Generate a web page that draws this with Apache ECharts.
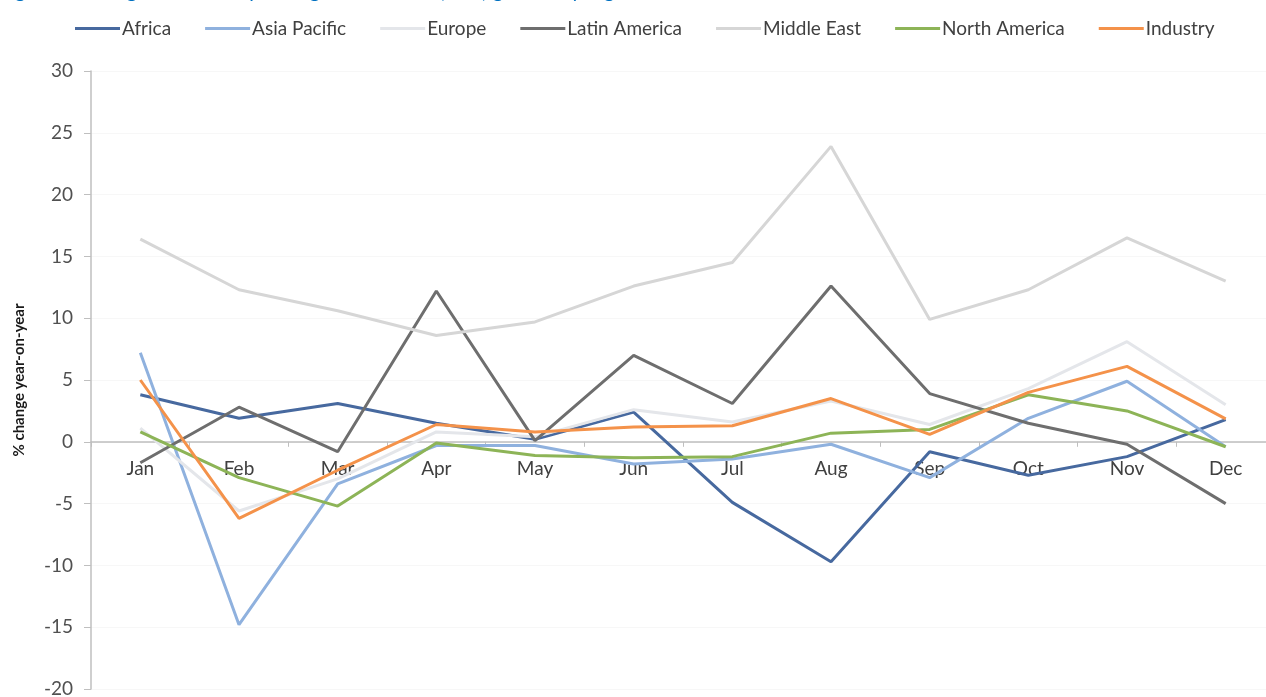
<!DOCTYPE html>
<html>
<head>
<meta charset="utf-8">
<script src="https://cdn.jsdelivr.net/npm/echarts@6/dist/echarts.min.js"></script>
<style>
  html, body { margin: 0; padding: 0; background: #ffffff; }
  #chart { width: 1266px; height: 697px; }
</style>
</head>
<body>
<div id="chart"></div>
<script>
// Monthly year-on-year % change by region
const months = ['Jan', 'Feb', 'Mar', 'Apr', 'May', 'Jun', 'Jul', 'Aug', 'Sep', 'Oct', 'Nov', 'Dec'];

const africa       = [3.8, 1.9, 3.1, 1.5, 0.2, 2.4, -4.9, -9.7, -0.8, -2.7, -1.2, 1.8];
const asiaPacific  = [7.2, -14.8, -3.4, -0.3, -0.3, -1.8, -1.4, -0.2, -2.9, 1.9, 4.9, -0.4];
const europe       = [1.1, -5.6, -3.0, 0.8, 0.4, 2.6, 1.6, 3.3, 1.4, 4.3, 8.1, 3.0];
const latinAmerica = [-1.7, 2.8, -0.8, 12.2, 0.1, 7.0, 3.1, 12.6, 3.9, 1.5, -0.2, -5.0];
const middleEast   = [16.4, 12.3, 10.6, 8.6, 9.7, 12.6, 14.5, 23.9, 9.9, 12.3, 16.5, 13.0];
const northAmerica = [0.8, -2.9, -5.2, -0.1, -1.1, -1.3, -1.2, 0.7, 1.0, 3.8, 2.5, -0.4];
const industry     = [5.0, -6.2, -2.3, 1.4, 0.8, 1.2, 1.3, 3.5, 0.6, 4.0, 6.1, 1.85];

const yTicks = { min: -20, max: 30, step: 5 };

const seriesDefs = [
  { name: 'Africa',        data: africa,       color: '#47699F' },
  { name: 'Asia Pacific',  data: asiaPacific,  color: '#8FB1DE' },
  { name: 'Europe',        data: europe,       color: '#E4E6EA' },
  { name: 'Latin America', data: latinAmerica, color: '#6E6E6E' },
  { name: 'Middle East',   data: middleEast,   color: '#D6D6D6' },
  { name: 'North America', data: northAmerica, color: '#8DB457' },
  { name: 'Industry',      data: industry,     color: '#F4924A' }
];

const FONT = 'Lato, "Open Sans", sans-serif';

// plot area box
const W = 1266, H = 697;
const gridBox = { left: 91, right: -9, top: 71, bottom: 8 };
const plotH = H - gridBox.top - gridBox.bottom;
// distance from the bottom of the plot up to the zero line, so month labels sit under it
const zeroLift = plotH * (0 - yTicks.min) / (yTicks.max - yTicks.min);

const chart = echarts.init(document.getElementById('chart'), null, { renderer: 'canvas' });

chart.setOption({
  backgroundColor: '#ffffff',
  animation: false,
  title: {
    text: 'Figure 2: Change in revenue passenger kilometres (RPK) growth by region in 2016',
    left: -6,
    top: -23,
    textStyle: { color: '#0070C0', fontFamily: FONT, fontSize: 20, fontWeight: 'normal' }
  },
  legend: {
    top: 14,
    left: 70,
    itemWidth: 45,
    itemHeight: 3,
    itemGap: 34,
    icon: 'rect',
    textStyle: { color: '#404040', fontFamily: FONT, fontSize: 19, padding: [0, 0, 0, -3] },
    data: seriesDefs.map(s => s.name)
  },
  grid: Object.assign({ containLabel: false, outerBoundsMode: 'none' }, gridBox),
  xAxis: [
    {
      type: 'category',
      data: months,
      boundaryGap: true,
      axisLine: { onZero: true, lineStyle: { color: '#BFBFBF', width: 1.5 } },
      axisTick: { show: true, inside: false, length: 5, lineStyle: { color: '#BFBFBF' } },
      axisLabel: { show: false },
      splitLine: { show: false }
    },
    {
      // label row that sits just below the zero line
      type: 'category',
      data: months,
      boundaryGap: true,
      position: 'bottom',
      offset: -zeroLift,
      axisLine: { show: false },
      axisTick: { show: false },
      axisLabel: { color: '#404040', fontFamily: FONT, fontSize: 19, margin: 18 },
      splitLine: { show: false }
    }
  ],
  yAxis: {
    type: 'value',
    min: yTicks.min,
    max: yTicks.max,
    interval: yTicks.step,
    name: '% change year-on-year',
    nameLocation: 'middle',
    nameGap: 64,
    nameRotate: 90,
    nameTextStyle: { color: '#1a1a1a', fontFamily: FONT, fontSize: 15, fontWeight: 'bold' },
    axisLine: { show: true, lineStyle: { color: '#BFBFBF', width: 1.5 } },
    axisTick: { show: true, length: 7, lineStyle: { color: '#BFBFBF' } },
    axisLabel: { color: '#505050', fontFamily: FONT, fontSize: 19, margin: 18 },
    splitLine: { show: true, lineStyle: { color: '#F7F7F7', width: 1 } }
  },
  series: seriesDefs.map(s => ({
    name: s.name,
    type: 'line',
    xAxisIndex: 0,
    data: s.data,
    symbol: 'none',
    smooth: false,
    color: s.color,
    lineStyle: { color: s.color, width: 3 },
    emphasis: { disabled: true }
  }))
});
</script>
</body>
</html>
